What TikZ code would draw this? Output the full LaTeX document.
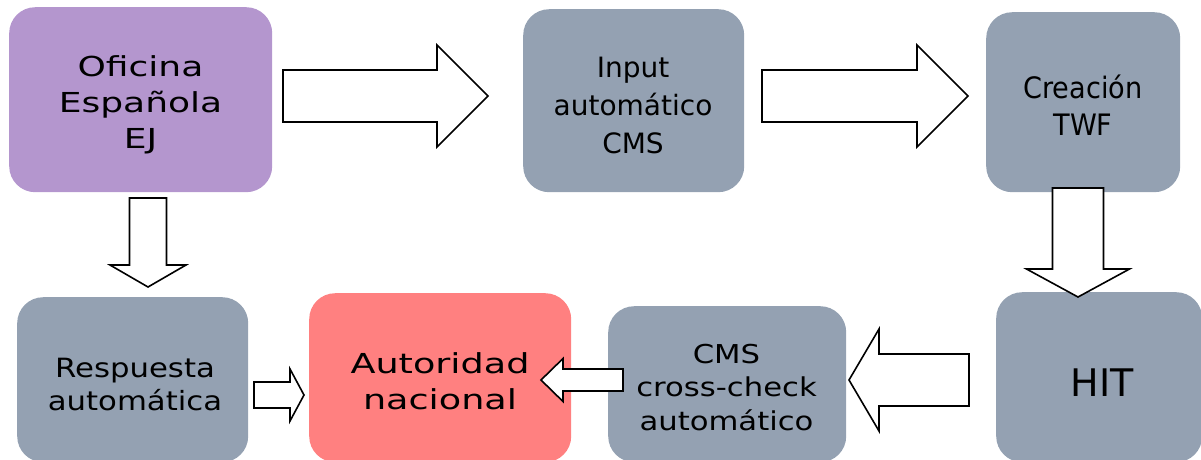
\documentclass[tikz,border=0pt]{standalone}
\usepackage{fontspec}
\setmainfont{DejaVu Sans}
\newfontfamily\fOfi[FakeStretch=1.31]{DejaVu Sans}
\newfontfamily\fRes[FakeStretch=1.16]{DejaVu Sans}
\newfontfamily\fAut[FakeStretch=1.33]{DejaVu Sans}
\newfontfamily\fCms[FakeStretch=1.18]{DejaVu Sans}
\newfontfamily\fCre[FakeStretch=0.92]{DejaVu Sans}
\newfontfamily\fInp{DejaVu Sans}
\usetikzlibrary{calc}
\definecolor{boxpurple}{RGB}{180,150,206}
\definecolor{boxgray}{RGB}{148,161,178}
\definecolor{boxred}{RGB}{255,128,128}
\newcommand{\mylines}[1]{\begin{tabular}[t]{@{}c@{}}#1\end{tabular}}
\newcommand{\blockarrow}[5]{%
  \path ($(#2)!#5!(#1)$) coordinate (ba-h);
  \draw[barrow] ($(#1)!#3!90:(#2)$) -- ($(ba-h)!#3!90:(#2)$) -- ($(ba-h)!#4!90:(#2)$)
    -- (#2) -- ($(ba-h)!#4!-90:(#2)$) -- ($(ba-h)!#3!-90:(#2)$) -- ($(#1)!#3!-90:(#2)$) -- cycle;
}
\tikzset{
  box/.style={rectangle, rounded corners=26pt, draw=none, inner sep=0pt, anchor=north west},
  pbox/.style={box, fill=boxpurple},
  gbox/.style={box, fill=boxgray},
  rbox/.style={box, fill=boxred},
  txt/.style={inner sep=0pt, anchor=base, text=black},
  barrow/.style={draw=black, fill=white, line width=1.6pt, line join=miter}
}
\begin{document}
\begin{tikzpicture}[x=1pt, y=-1pt]
\useasboundingbox (0,0) rectangle (1201,459);
\clip (0,0) rectangle (1201,459);
% boxes
\node[pbox, minimum width=263, minimum height=185] (ofi) at (9,7) {};
\node[gbox, minimum width=221, minimum height=183] (inp) at (523,9) {};
\node[gbox, minimum width=194, minimum height=180] (cre) at (986,12) {};
\node[gbox, minimum width=231, minimum height=165] (res) at (17,297) {};
\node[rbox, minimum width=262, minimum height=169] (aut) at (309,293) {};
\node[gbox, minimum width=238, minimum height=156] (cms) at (608,306) {};
\node[gbox, minimum width=206, minimum height=170] (hit) at (996,292) {};
% texts
\node[txt] (ofi-t) at (140.5,76) {\fOfi\fontsize{27.5}{36}\selectfont\mylines{Oficina\\Española\\EJ}};
\node[txt] (inp-t) at (633,77) {\fInp\fontsize{28}{38}\selectfont\mylines{Input\\automático\\CMS}};
\node[txt] (cre-t) at (1083,98) {\fCre\fontsize{29.5}{37}\selectfont\mylines{Creación\\TWF}};
\node[txt] (hit-t) at (1102,396) {\fontsize{38}{45}\selectfont HIT};
\node[txt] (res-t) at (135,377) {\fRes\fontsize{26.5}{33}\selectfont\mylines{Respuesta\\automática}};
\node[txt] (aut-t) at (440,373) {\fAut\fontsize{27.5}{36}\selectfont\mylines{Autoridad\\nacional}};
\node[txt] (cms-t) at (726.5,363) {\fCms\fontsize{26}{33.5}\selectfont\mylines{CMS\\cross-check\\automático}};
% arrow ends
\coordinate (a1s) at (283,96);   \coordinate (a1e) at (488,96);
\coordinate (a2s) at (762,96);   \coordinate (a2e) at (968,96);
\coordinate (a3s) at (148,198);  \coordinate (a3e) at (148,287);
\coordinate (a4s) at (1078,188); \coordinate (a4e) at (1078,297);
\coordinate (a5s) at (969,380);  \coordinate (a5e) at (849,380);
\coordinate (a6s) at (623,380);  \coordinate (a6e) at (541,380);
\coordinate (a7s) at (254,395);  \coordinate (a7e) at (304,395);
% block arrows
\blockarrow{a1s}{a1e}{26pt}{51pt}{51pt}
\blockarrow{a2s}{a2e}{26pt}{51pt}{51pt}
\blockarrow{a3s}{a3e}{18.5pt}{38pt}{22pt}
\blockarrow{a4s}{a4e}{25.5pt}{51.5pt}{28pt}
\blockarrow{a5s}{a5e}{26pt}{51pt}{30pt}
\blockarrow{a6s}{a6e}{11pt}{21.5pt}{22pt}
\blockarrow{a7s}{a7e}{13pt}{26pt}{14pt}
\end{tikzpicture}
\end{document}
